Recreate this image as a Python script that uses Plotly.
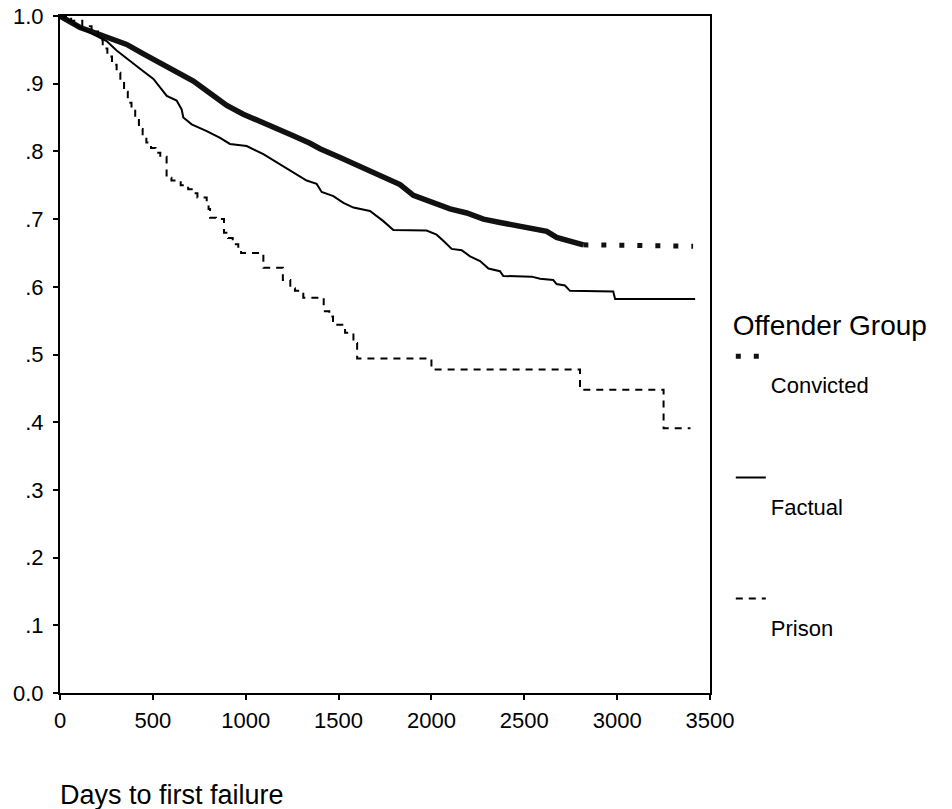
import numpy as np
import plotly.graph_objects as go

# ---------------- data ----------------
conv_days = [0, 50, 108, 180, 269, 359, 449, 539, 628, 718, 808, 898, 987, 1077, 1167,
             1256, 1346, 1400, 1508, 1616, 1723, 1831, 1903, 2010, 2100, 2190, 2280, 2369,
             2459, 2549, 2621, 2674, 2728, 2818, 3409]
conv_surv = [1.0, 0.993, 0.983, 0.976, 0.967, 0.958, 0.944, 0.931, 0.919, 0.904, 0.886, 0.868,
             0.855, 0.845, 0.834, 0.823, 0.812, 0.804, 0.791, 0.777, 0.764, 0.751, 0.735, 0.724,
             0.715, 0.709, 0.700, 0.695, 0.691, 0.687, 0.682, 0.673, 0.669, 0.662, 0.660]

fact_days = [0, 50, 108, 198, 251, 305, 359, 431, 503, 539, 575, 628, 655, 664, 709, 790, 862,
             915, 1005, 1095, 1185, 1256, 1328, 1382, 1409, 1472, 1526, 1580, 1669, 1741, 1795,
             1974, 2028, 2064, 2109, 2163, 2208, 2262, 2307, 2369, 2387, 2540, 2585, 2656, 2674,
             2719, 2746, 2979, 2989, 3420]
fact_surv = [1.0, 0.993, 0.983, 0.971, 0.963, 0.949, 0.937, 0.922, 0.907, 0.894, 0.882, 0.875,
             0.862, 0.850, 0.840, 0.830, 0.820, 0.811, 0.808, 0.796, 0.781, 0.769, 0.757, 0.752,
             0.740, 0.734, 0.724, 0.717, 0.712, 0.697, 0.684, 0.683, 0.677, 0.668, 0.656, 0.654,
             0.645, 0.638, 0.627, 0.623, 0.616, 0.615, 0.612, 0.610, 0.604, 0.602, 0.594, 0.593,
             0.582, 0.582]

pris_days = [0, 60, 120, 170, 205, 230, 255, 280, 305, 325, 345, 365, 385, 405, 425, 445, 465,
             490, 515, 540, 574, 600, 650, 690, 720, 740, 790, 800, 808, 840, 883, 905, 930, 960,
             975, 1095, 1200, 1240, 1265, 1310, 1420, 1450, 1470, 1535, 1580, 1600, 2000, 2800,
             3250, 3395]
pris_surv = [1.0, 0.993, 0.985, 0.977, 0.965, 0.952, 0.940, 0.928, 0.916, 0.903, 0.888, 0.872,
             0.862, 0.850, 0.833, 0.822, 0.813, 0.805, 0.798, 0.792, 0.761, 0.757, 0.750, 0.744,
             0.738, 0.732, 0.726, 0.715, 0.702, 0.700, 0.680, 0.672, 0.663, 0.655, 0.650, 0.628,
             0.610, 0.598, 0.594, 0.584, 0.564, 0.556, 0.544, 0.532, 0.517, 0.494, 0.478, 0.448,
             0.391, 0.391]

x_ticks = [0, 500, 1000, 1500, 2000, 2500, 3000, 3500]
y_ticks = [0.0, 0.1, 0.2, 0.3, 0.4, 0.5, 0.6, 0.7, 0.8, 0.9, 1.0]
y_tick_labels = ["0.0", ".1", ".2", ".3", ".4", ".5", ".6", ".7", ".8", ".9", "1.0"]
group_names = ["Convicted", "Factual", "Prison"]

# ------------------------------------------------------------------
FONT = "Arial, 'Liberation Sans', sans-serif"
TAIL_FROM = 2818  # where the heavy dotted style of the Convicted curve becomes sparse

cd = np.array(conv_days)
cs = np.array(conv_surv)
head = cd <= TAIL_FROM
tail = cd >= TAIL_FROM

fig = go.Figure()

# Convicted – dense part (thick)
fig.add_trace(go.Scatter(
    x=cd[head], y=cs[head], mode="lines", showlegend=False, legendgroup="g1",
    line=dict(color="#111111", width=5.5), hoverinfo="skip"))
# Convicted – sparse tail (square dots), used as legend sample
fig.add_trace(go.Scatter(
    x=cd[tail], y=cs[tail], mode="lines", name="<br>" + group_names[0], legendgroup="g1",
    line=dict(color="#111111", width=5, dash="5px,13px")))

fig.add_trace(go.Scatter(
    x=fact_days, y=fact_surv, mode="lines", name="<br>" + group_names[1], legendgroup="g2",
    line=dict(color="#000000", width=2)))

fig.add_trace(go.Scatter(
    x=pris_days, y=pris_surv, mode="lines", name="<br>" + group_names[2], legendgroup="g3",
    line=dict(color="#000000", width=2, dash="7px,6px", shape="hv")))

axis_common = dict(
    showline=True, linewidth=2, linecolor="black", mirror=True,
    ticks="outside", ticklen=5, tickwidth=2, tickcolor="black", automargin=False,
    ticklabeloverflow="allow",
    showgrid=False, zeroline=False, tickfont=dict(size=22, color="black", family=FONT),
)

fig.update_xaxes(range=[0, 3500], tickvals=x_ticks, ticklabelstandoff=2, **axis_common)
fig.update_yaxes(range=[0, 1], tickvals=y_ticks, ticktext=y_tick_labels,
                 ticklabelstandoff=5, **axis_common)

fig.add_annotation(
    text="Days to first failure", xref="paper", yref="paper",
    x=-0.003, y=-0.151, xanchor="left", yanchor="middle", showarrow=False,
    font=dict(size=27, color="black", family=FONT))

fig.update_layout(
    width=952, height=809,
    margin=dict(l=60, r=242, t=16, b=116, autoexpand=False),
    plot_bgcolor="white", paper_bgcolor="white",
    font=dict(family=FONT, color="black"),
    legend=dict(
        x=1.032, xanchor="left", y=0.582, yanchor="top",
        title=dict(text="Offender Group", font=dict(size=28, family=FONT)),
        font=dict(size=22, family=FONT),
        valign="top", traceorder="grouped", tracegroupgap=61,
        itemwidth=30, bgcolor="rgba(0,0,0,0)",
    ),
)

# remove the default page margin so the figure sits at the window's top-left corner
fig.write_html("out.html", config={"displayModeBar": False},
               post_script="document.body.style.margin='0';document.body.style.overflow='hidden';")
